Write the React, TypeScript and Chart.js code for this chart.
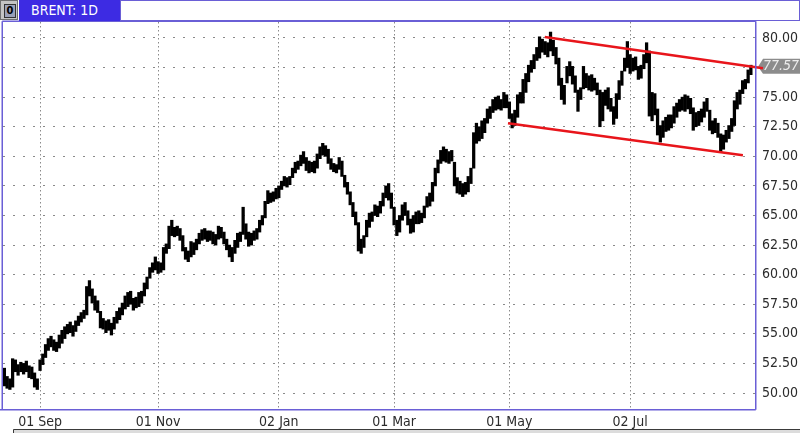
import React, { useEffect, useRef } from 'react';
import { Chart, registerables } from 'chart.js';

Chart.register(...registerables);

// Daily low / high of BRENT (one bar per trading day, 15 Aug 2017 .. 31 Aug 2018)
const lowPrices = [
  50.6, 50.4, 50.3, 50.5, 51.8, 51.5, 51.8, 51.6, 51.8, 51.3,
  51.2, 50.5, 50.3, 51.9, 52.4, 53.0, 53.6, 53.9, 53.6, 53.5,
  53.8, 54.2, 54.6, 55.0, 55.1, 54.8, 55.2, 55.7, 56.0, 56.3,
  56.6, 58.2, 57.6, 57.0, 56.8, 55.5, 55.4, 55.1, 55.3, 54.9,
  55.4, 55.9, 56.2, 56.6, 57.1, 57.3, 57.5, 57.0, 57.2, 57.3,
  57.6, 58.2, 58.8, 59.7, 60.2, 60.4, 60.1, 60.2, 60.4, 61.8,
  62.2, 63.3, 63.2, 63.3, 62.9, 62.0, 61.3, 61.1, 61.5, 61.7,
  62.1, 62.6, 62.9, 63.0, 62.8, 62.9, 62.6, 62.5, 63.0, 63.1,
  62.6, 62.1, 61.5, 61.1, 61.8, 62.3, 62.8, 63.4, 63.0, 62.4,
  62.5, 62.9, 63.0, 63.6, 64.2, 64.8, 66.0, 66.1, 66.2, 66.4,
  66.5, 67.2, 67.5, 67.4, 67.6, 68.2, 68.6, 68.9, 69.2, 69.4,
  68.8, 68.6, 68.7, 68.6, 69.0, 69.8, 70.1, 70.0, 69.4, 68.9,
  68.7, 68.6, 68.9, 68.3, 67.4, 66.8, 65.9, 64.9, 64.2, 62.0,
  61.8, 62.3, 63.2, 64.0, 64.5, 65.0, 64.9, 65.2, 65.8, 66.5,
  66.3, 65.6, 64.2, 63.3, 63.6, 64.6, 65.0, 64.2, 63.5, 63.6,
  64.3, 64.3, 64.4, 64.8, 65.7, 65.8, 66.2, 67.5, 68.6, 69.4,
  69.6, 69.5, 69.4, 69.6, 67.5, 66.9, 66.8, 66.6, 66.8, 67.0,
  67.7, 69.0, 71.1, 71.3, 71.5, 72.0, 72.8, 73.2, 73.7, 73.9,
  74.0, 73.9, 74.1, 74.1, 73.2, 72.4, 72.6, 73.3, 74.5, 74.5,
  75.4, 76.3, 77.1, 77.4, 78.1, 78.3, 78.8, 78.6, 78.4, 78.9,
  78.5, 77.8, 76.0, 74.8, 74.4, 76.2, 76.8, 76.1, 75.4, 73.8,
  74.8, 75.7, 75.8, 75.6, 75.5, 75.6, 75.2, 72.5, 73.0, 74.3,
  74.0, 73.8, 72.7, 73.2, 74.8, 76.0, 77.2, 77.5, 77.0, 77.2,
  77.3, 76.5, 76.6, 77.4, 77.9, 73.4, 73.0, 73.5, 71.8, 71.2,
  71.6, 72.1, 72.2, 72.4, 72.8, 73.3, 73.8, 73.9, 73.8, 74.0,
  73.6, 72.2, 72.5, 72.6, 72.9, 73.3, 73.8, 72.2, 71.9, 72.0,
  71.6, 70.4, 70.6, 71.2, 71.5, 72.1, 72.6, 74.0, 74.4, 75.3,
  75.7, 76.2, 76.9,
];

const highPrices = [
  52.1, 51.4, 51.2, 52.9, 52.8, 52.4, 52.6, 52.5, 52.7, 52.3,
  52.2, 51.7, 51.2, 52.8, 53.3, 54.1, 54.6, 54.8, 54.5, 54.3,
  54.9, 55.3, 55.6, 55.8, 56.0, 55.7, 56.1, 56.5, 56.8, 57.0,
  59.0, 59.5, 58.8, 58.2, 57.8, 56.9, 56.3, 56.1, 56.2, 55.9,
  56.4, 56.9, 57.2, 57.6, 58.2, 58.5, 58.6, 58.0, 58.1, 58.5,
  58.6, 59.3, 59.8, 60.6, 61.0, 61.5, 61.1, 61.0, 62.3, 62.6,
  64.1, 64.6, 64.0, 64.1, 63.9, 63.3, 62.3, 62.0, 62.8, 62.7,
  63.0, 63.5, 63.8, 63.9, 63.7, 63.7, 63.6, 63.4, 64.1, 64.0,
  63.6, 63.0, 62.5, 62.3, 62.9, 63.5, 63.6, 65.7, 64.3, 63.6,
  63.5, 63.7, 63.9, 64.6, 65.0, 66.2, 67.1, 66.9, 67.0, 67.3,
  67.5, 67.9, 68.3, 68.2, 68.3, 69.0, 69.5, 69.6, 70.1, 70.4,
  69.9, 69.6, 69.5, 69.6, 70.2, 70.8, 71.1, 70.9, 70.6, 69.8,
  69.4, 69.3, 69.9, 69.6, 68.4, 67.8, 67.0, 66.1, 65.3, 64.4,
  63.0, 63.3, 64.6, 65.2, 65.3, 65.9, 65.8, 66.2, 66.9, 67.5,
  67.7, 66.9, 65.7, 64.6, 65.0, 65.9, 66.1, 65.4, 64.7, 65.0,
  65.3, 65.4, 65.2, 65.8, 66.6, 66.9, 67.8, 69.0, 69.7, 70.5,
  70.8, 70.6, 70.4, 70.5, 69.5, 68.2, 67.9, 67.7, 67.8, 68.3,
  69.0, 72.0, 72.8, 72.5, 73.0, 73.2, 74.0, 74.2, 74.8, 75.0,
  75.1, 74.8, 75.4, 75.2, 74.6, 73.6, 73.9, 75.2, 75.4, 76.5,
  77.0, 77.7, 78.1, 78.6, 79.2, 80.1, 79.9, 79.7, 79.6, 80.5,
  79.8, 79.2, 78.3, 76.6, 76.0, 77.6, 78.0, 77.6, 76.8, 75.6,
  75.8, 77.6, 77.0, 76.8, 76.9, 76.6, 76.2, 75.6, 75.4, 75.6,
  75.8, 74.9, 74.2, 75.3, 76.4, 77.2, 78.3, 79.7, 78.6, 78.3,
  78.4, 77.6, 77.7, 78.6, 79.6, 78.9, 75.4, 75.3, 74.0, 72.6,
  73.0, 73.3, 73.5, 73.5, 74.2, 74.5, 74.8, 75.0, 75.2, 75.1,
  74.9, 74.1, 73.7, 73.8, 74.0, 74.6, 74.9, 73.9, 73.0, 73.2,
  72.8, 71.9, 71.8, 72.2, 72.6, 73.2, 74.7, 75.4, 75.6, 76.4,
  76.5, 77.3, 77.7,
];

// Category ticks (bar index -> label)
const xTickIndex = [13, 56, 100, 142, 184, 228];
const xTickLabels = ['01 Sep', '01 Nov', '02 Jan', '01 Mar', '01 May', '02 Jul'];

const yTickValues = [50, 52.5, 55, 57.5, 60, 62.5, 65, 67.5, 70, 72.5, 75, 77.5, 80];
const lastPrice = 77.57;

// Hand-drawn channel lines (bar index, price)
const upperChannelX = [196.9, 276.4];
const upperChannelY = [80.08, 77.45];
const lowerChannelX = [183.5, 269.1];
const lowerChannelY = [72.8, 70.1];

const FONT = '"Liberation Sans Narrow", "DejaVu Sans Condensed", "Liberation Sans", sans-serif';
const FRAME = '#6a5fd6';

const overlayPlugin = {
  id: 'overlay',
  beforeDatasetsDraw(chart: any) {
    const { ctx, chartArea: a, scales } = chart;
    const y = scales.y.getPixelForValue(lastPrice);
    ctx.save();
    ctx.fillStyle = '#8c8c8c';
    ctx.beginPath();
    ctx.moveTo(a.right + 3, y);
    ctx.lineTo(a.right + 8, y - 8);
    ctx.lineTo(800, y - 8);
    ctx.lineTo(800, y + 7);
    ctx.lineTo(a.right + 8, y + 7);
    ctx.closePath();
    ctx.fill();
    ctx.fillStyle = '#ececec';
    ctx.font = 'italic 14px ' + FONT;
    ctx.textAlign = 'left';
    ctx.textBaseline = 'middle';
    ctx.fillText(lastPrice.toFixed(2), a.right + 8, y);
    ctx.restore();
  },
  afterDraw(chart: any) {
    const { ctx, chartArea: a } = chart;
    ctx.save();
    ctx.strokeStyle = FRAME;
    ctx.lineWidth = 1.5;
    ctx.beginPath();
    ctx.moveTo(a.left - 0.75, a.top - 0.75);
    ctx.lineTo(a.left - 0.75, a.bottom + 0.75);
    ctx.moveTo(0, a.bottom + 0.75);
    ctx.lineTo(a.right + 0.75, a.bottom + 0.75);
    ctx.moveTo(a.right + 0.75, a.top - 0.75);
    ctx.lineTo(a.right + 0.75, a.bottom + 0.75);
    ctx.moveTo(a.left - 0.75, a.top - 0.75);
    ctx.lineTo(a.right + 0.75, a.top - 0.75);
    ctx.stroke();
    // scrollbar strip at bottom
    ctx.fillStyle = '#dcdcdc';
    ctx.fillRect(13, 429, 787, 4);
    ctx.strokeStyle = '#3a3a3a';
    ctx.lineWidth = 1;
    ctx.beginPath();
    ctx.moveTo(13.5, 433);
    ctx.lineTo(13.5, 429.5);
    ctx.lineTo(800, 429.5);
    ctx.stroke();
    ctx.restore();
  },
};

export default function App() {
  const canvasRef = useRef<HTMLCanvasElement | null>(null);

  useEffect(() => {
    document.body.style.margin = '0';
    const canvas = canvasRef.current;
    if (!canvas) return;

    const bars = lowPrices.map((lo, i) => ({ x: i, y: [lo, highPrices[i]] }));
    const upper = upperChannelX.map((x, i) => ({ x, y: upperChannelY[i] }));
    const lower = lowerChannelX.map((x, i) => ({ x, y: lowerChannelY[i] }));

    const chart = new Chart(canvas, {
      type: 'bar',
      data: {
        datasets: [
          {
            type: 'line',
            data: upper as any,
            borderColor: '#e8151b',
            borderWidth: 2.5,
            pointRadius: 0,
            fill: false,
            clip: { left: 0, top: 0, right: 10, bottom: 0 } as any,
            order: 0,
          } as any,
          {
            type: 'line',
            data: lower as any,
            borderColor: '#e8151b',
            borderWidth: 2.5,
            pointRadius: 0,
            fill: false,
            order: 0,
          } as any,
          {
            type: 'bar',
            data: bars as any,
            backgroundColor: '#000000',
            borderWidth: 0,
            barThickness: 2.6,
            order: 1,
          } as any,
        ],
      },
      options: {
        responsive: false,
        animation: false,
        devicePixelRatio: 1,
        events: [],
        layout: { padding: { top: 22, left: 3, right: 0, bottom: 0 } },
        plugins: {
          legend: { display: false },
          tooltip: { enabled: false },
          title: { display: false },
        },
        scales: {
          x: {
            type: 'linear',
            min: -0.5,
            max: 273.5,
            offset: false,
            grid: {
              offset: false,
              color: '#8a8a8a',
              lineWidth: 1,
              drawTicks: false,
            },
            border: { display: false, dash: [1.5, 2.5] },
            afterBuildTicks: (scale: any) => {
              scale.ticks = xTickIndex.map((v) => ({ value: v }));
            },
            afterFit: (scale: any) => {
              scale.height = 24;
            },
            ticks: {
              autoSkip: false,
              maxRotation: 0,
              padding: 5,
              color: '#2b2b2b',
              font: { family: FONT, size: 14 },
              callback: (v: any) => {
                const k = xTickIndex.indexOf(Number(v));
                return k >= 0 ? xTickLabels[k] : null;
              },
            },
          },
          y: {
            type: 'linear',
            position: 'right',
            min: 48.65,
            max: 81.35,
            grid: {
              color: '#8a8a8a',
              lineWidth: 1,
              drawTicks: false,
            },
            border: { display: false, dash: [2, 8] },
            afterBuildTicks: (scale: any) => {
              scale.ticks = yTickValues.map((v) => ({ value: v }));
            },
            afterFit: (scale: any) => {
              scale.width = 45;
            },
            ticks: {
              padding: 7,
              color: '#2b2b2b',
              font: { family: FONT, size: 14 },
              callback: (v: any) => Number(v).toFixed(2),
            },
          },
        },
      },
      plugins: [overlayPlugin],
    });

    return () => chart.destroy();
  }, []);

  return (
    <div style={{ position: 'relative', width: 800, height: 433, background: '#ffffff', overflow: 'hidden' }}>
      <canvas ref={canvasRef} width={800} height={433} style={{ position: 'absolute', left: 0, top: 0, width: 800, height: 433 }} />
      <div
        style={{
          position: 'absolute', left: 120, top: 0, width: 680, height: 21,
          boxSizing: 'border-box', border: '1px solid ' + FRAME, background: '#ffffff',
        }}
      />
      <div
        style={{
          position: 'absolute', left: 0, top: 0, width: 18, height: 20, boxSizing: 'border-box',
          background: '#c4c4c4', border: '1px solid #6e6e6e',
        }}
      >
        <div
          style={{
            position: 'absolute', left: 3, top: 3, width: 10, height: 12, background: '#9aa0b8',
            border: '1px solid #333', fontFamily: FONT, fontSize: 11, fontWeight: 'bold',
            lineHeight: '12px', textAlign: 'center', color: '#000',
          }}
        >
          0
        </div>
      </div>
      <div
        style={{
          position: 'absolute', left: 19, top: 0, width: 101, height: 21, boxSizing: 'border-box',
          background: '#3d2be3', color: '#ffffff', fontFamily: FONT, fontSize: 14,
          lineHeight: '21px', paddingLeft: 12, whiteSpace: 'nowrap',
        }}
      >
        BRENT: 1D
      </div>
    </div>
  );
}
